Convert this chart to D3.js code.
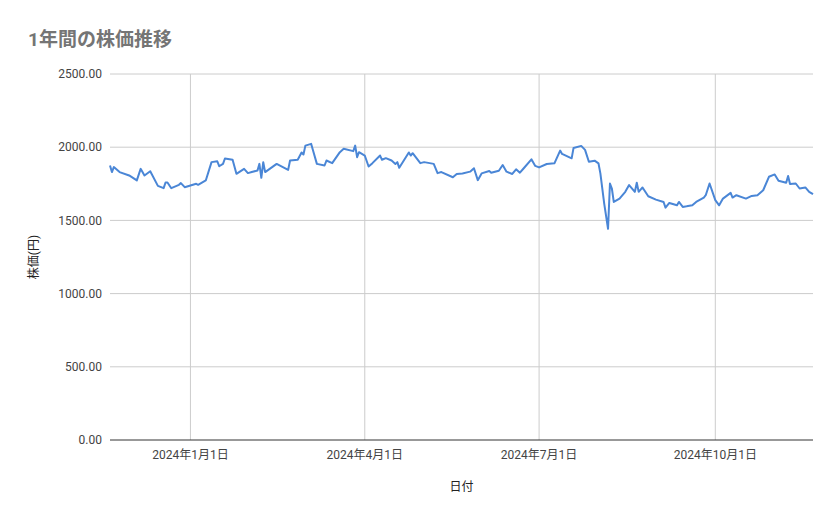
<!DOCTYPE html>
<html>
<head>
<meta charset="utf-8">
<script src="https://cdn.jsdelivr.net/npm/d3@7"></script>
<style>
  body { margin: 0; background: #fff; }
  text { font-family: Roboto, "Noto Sans CJK JP", sans-serif; }
</style>
</head>
<body>
<svg id="chart" width="839" height="519"></svg>
<script>
// days offset from 2024-01-01, closing price (円)
const dayOffsets = [-42,-41,-40,-37,-32,-28,-26,-24,-21,-17,-14,-13,-12,-10,-6,-5,-3,3,4,8,11,14,15,17,18,22,24,28,30,32,35,36,37,38,39,45,51,52,56,58,59,60,63,64,66,70,71,74,78,80,85,86,87,88,91,93,95,99,100,102,105,107,108,109,114,115,116,120,122,127,129,131,137,
  139,142,146,148,150,152,156,157,161,163,165,168,170,172,174,178,180,182,186,190,193,194,199,200,204,206,208,211,213,214,216,218,219,220,221,224,227,229,232,233,234,236,239,243,247,248,250,254,255,257,259,262,264,268,269,271,274,276,278,282,283,285,290,293,296,299,302,305,307,311,312,313,316,318,321,323,325];
const prices = [1875,1830,1864,1830,1807,1773,1852,1807,1836,1736,1720,1759,1759,1720,1743,1755,1727,1750,1743,1773,1898,1904,1870,1886,1923,1914,1818,1852,1823,1830,1841,1886,1791,1898,1830,1886,1845,1909,1914,1964,1950,2011,2023,1977,1886,1875,1909,1891,1966,1989,1973,2011,1932,1966,1943,1868,1891,1943,1914,1925,1909,1886,1898,1859,1964,1943,1959,1891,1898,1886,1823,1830,1795,
  1817,1821,1833,1856,1775,1821,1837,1826,1839,1878,1833,1817,1849,1826,1856,1917,1872,1862,1885,1890,1977,1954,1924,1995,2009,1982,1901,1908,1890,1821,1615,1443,1752,1718,1626,1649,1695,1741,1695,1757,1695,1725,1665,1642,1626,1587,1619,1603,1626,1592,1596,1603,1626,1656,1672,1752,1638,1603,1649,1688,1656,1672,1649,1667,1672,1706,1798,1814,1771,1757,1803,1748,1752,1718,1725,1695,1679];
const yTicks = [0, 500, 1000, 1500, 2000, 2500];
const xTicks = ["2024-01-01", "2024-04-01", "2024-07-01", "2024-10-01"];

const base = new Date(2024, 0, 1);
const data = dayOffsets.map((d, i) => ({date: d3.timeDay.offset(base, d), value: prices[i]}));

const svg = d3.select("#chart");
const margin = {top: 74, right: 26, bottom: 79, left: 110};
const width = 839 - margin.left - margin.right;
const height = 519 - margin.top - margin.bottom;

const x = d3.scaleTime().domain(d3.extent(data, d => d.date)).range([0, width]);
const y = d3.scaleLinear().domain([0, 2500]).range([height, 0]);

const g = svg.append("g").attr("transform", `translate(${margin.left},${margin.top})`);

svg.append("text").attr("x", 28).attr("y", 46)
  .attr("font-size", 19).attr("font-weight", "bold").attr("fill", "#757575")
  .text("1年間の株価推移");

const xDates = xTicks.map(s => d3.timeParse("%Y-%m-%d")(s));

g.append("g").selectAll("line").data(yTicks.filter(d => d > 0)).join("line")
  .attr("x1", 0).attr("x2", width).attr("y1", d => y(d)).attr("y2", d => y(d))
  .attr("stroke", "#cccccc");
g.append("g").selectAll("line").data(xDates).join("line")
  .attr("x1", d => x(d)).attr("x2", d => x(d)).attr("y1", 0).attr("y2", height)
  .attr("stroke", "#cccccc");
g.append("line").attr("x1", 0).attr("x2", width).attr("y1", height).attr("y2", height)
  .attr("stroke", "#333");

g.append("g").selectAll("text").data(yTicks).join("text")
  .attr("x", -8).attr("y", d => y(d)).attr("dy", "0.35em").attr("text-anchor", "end")
  .attr("font-size", 12).attr("fill", "#444")
  .text(d => d3.format(".2f")(d));

g.append("g").selectAll("text").data(xDates).join("text")
  .attr("x", d => x(d)).attr("y", height + 19).attr("text-anchor", "middle")
  .attr("font-size", 12).attr("fill", "#444")
  .text(d => `${d.getFullYear()}年${d.getMonth() + 1}月${d.getDate()}日`);

svg.append("text").attr("x", margin.left + width / 2).attr("y", 491)
  .attr("text-anchor", "middle").attr("font-size", 12).attr("fill", "#222").text("日付");
svg.append("text").attr("transform", `translate(38,${margin.top + height / 2}) rotate(-90)`)
  .attr("text-anchor", "middle").attr("font-size", 12).attr("fill", "#222").text("株価(円)");

const line = d3.line().x(d => x(d.date)).y(d => y(d.value));
g.append("path").datum(data).attr("d", line)
  .attr("fill", "none").attr("stroke", "#4a86d6").attr("stroke-width", 2)
  .attr("stroke-linejoin", "round");
</script>
</body>
</html>
